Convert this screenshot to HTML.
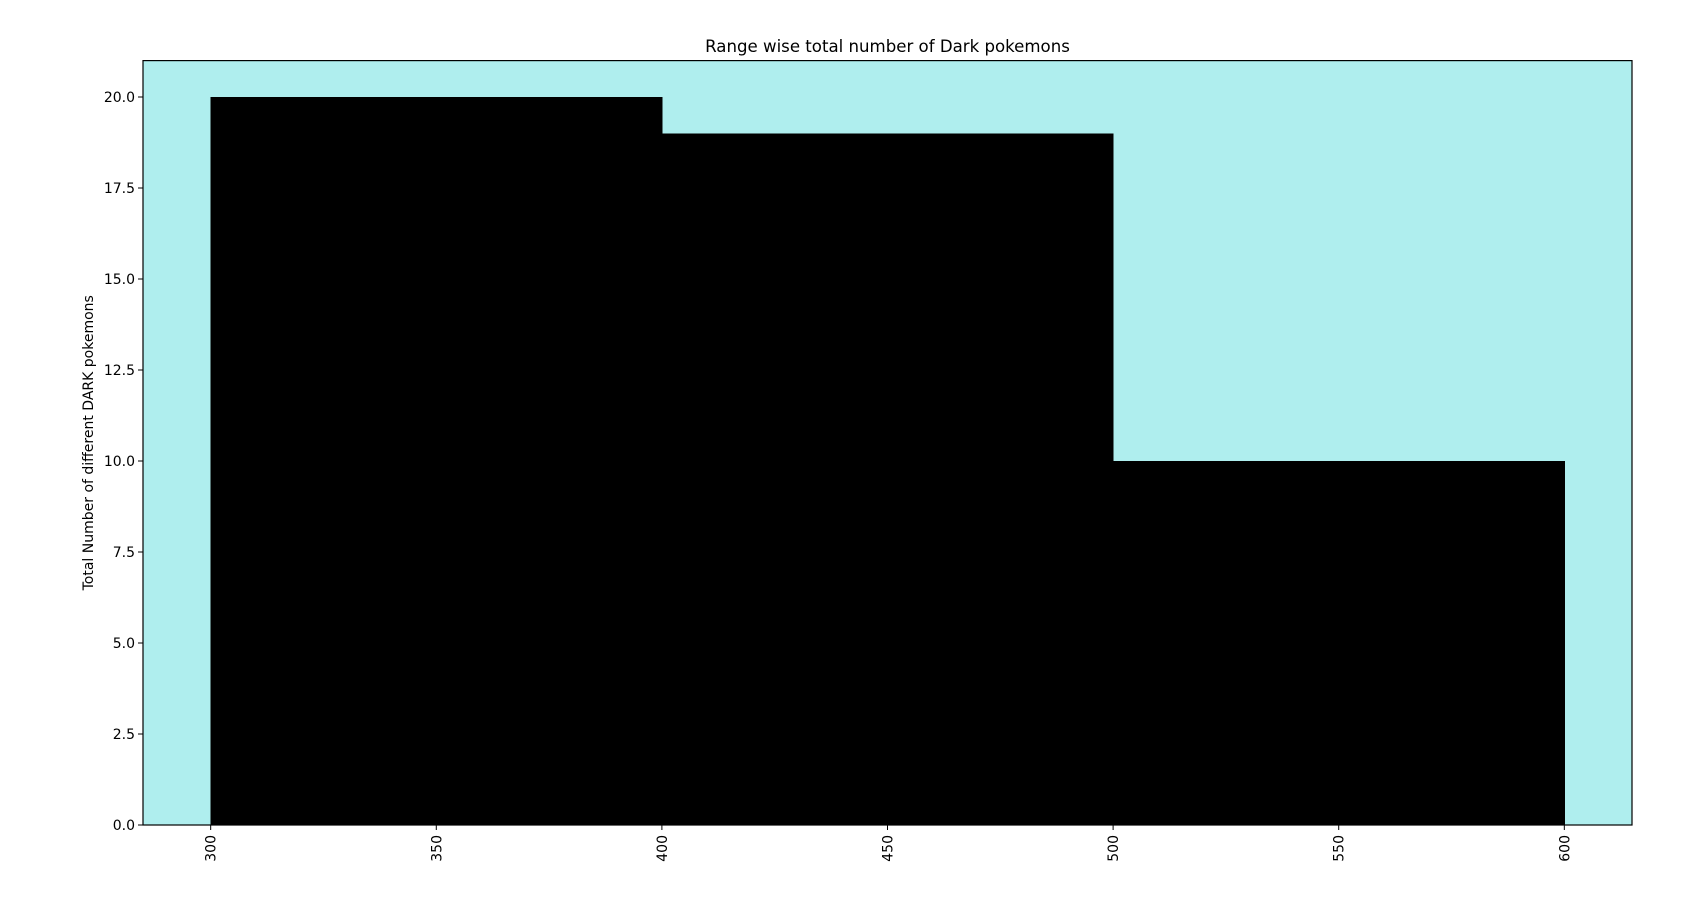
<!DOCTYPE html>
<html><head><meta charset="utf-8"><style>
body{margin:0;background:#fff}
svg text{font-family:"DejaVu Sans","Liberation Sans",sans-serif;fill:#000}
</style></head><body>
<svg width="1694" height="898" xmlns="http://www.w3.org/2000/svg">
<g id="chart"></g>
</svg>
<script>
const binEdges=[300,400,500,600];
const counts=[20,19,10];
const xTicks=[300,350,400,450,500,550,600];
const yTicks=[0,2.5,5,7.5,10,12.5,15,17.5,20];
const L=143,R=1632,T=60.6,B=825;
const xMin=285,xMax=615,yMin=0,yMax=21;
const sx=v=>L+(v-xMin)/(xMax-xMin)*(R-L);
const sy=v=>B-(v-yMin)/(yMax-yMin)*(B-T);
const g=document.getElementById('chart');
const NS='http://www.w3.org/2000/svg';
function mk(t,a){const e=document.createElementNS(NS,t);for(const k in a)e.setAttribute(k,a[k]);g.appendChild(e);return e;}
let bg=mk('rect',{x:L,y:T,width:R-L,height:B-T,fill:'#afeeee'});


counts.forEach((c,i)=>{
 const r=mk('rect',{x:sx(binEdges[i]),y:sy(c),width:sx(binEdges[i+1])-sx(binEdges[i])+0.5,height:sy(0)-sy(c),fill:'#000','shape-rendering':'crispEdges'});
 
 
});
let fr=mk('rect',{x:L,y:T,width:R-L,height:B-T,fill:'none',stroke:'#000','stroke-width':1.2});


xTicks.forEach(v=>{
 const x=sx(v);
 mk('line',{x1:x,x2:x,y1:B,y2:B+5,stroke:'#000','stroke-width':1});
 const t=mk('text',{x:x+5,y:B+10,'font-size':14,'text-anchor':'end',transform:`rotate(-90 ${x+5} ${B+10})`});
 t.textContent=v;
 
 
});
yTicks.forEach(v=>{
 const y=sy(v);
 mk('line',{x1:L-5,x2:L,y1:y,y2:y,stroke:'#000','stroke-width':1});
 const t=mk('text',{x:L-8,y:y+5,'font-size':14,'text-anchor':'end'});
 t.textContent=v.toFixed(1);
 
 
});
let ti=mk('text',{x:(L+R)/2,y:52,'font-size':16.6,'text-anchor':'middle'});
ti.textContent='Range wise total number of Dark pokemons';


let yl=mk('text',{x:93,y:(T+B)/2,'font-size':14,'text-anchor':'middle',transform:`rotate(-90 93 ${(T+B)/2})`});
yl.textContent='Total Number of different DARK pokemons';


</script>
</body></html>
